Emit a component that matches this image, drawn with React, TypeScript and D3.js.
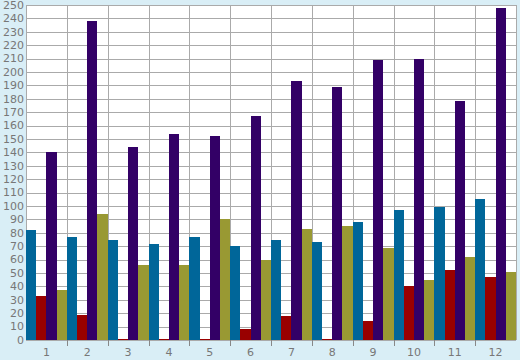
import React from "react";
import * as d3 from "d3";

const categories = ["1", "2", "3", "4", "5", "6", "7", "8", "9", "10", "11", "12"];
const seriesBlue = [82, 77, 75, 72, 77, 70, 75, 73, 88, 97, 99, 105];
const seriesRed = [33, 19, 1, 1, 1, 8, 18, 1, 14, 40, 52, 47];
const seriesPurple = [140, 238, 144, 154, 152, 167, 193, 189, 209, 210, 178, 248];
const seriesOlive = [37, 94, 56, 56, 90, 60, 83, 85, 69, 45, 62, 51];
const seriesNames = ["blue", "red", "purple", "olive"];
const seriesColors = ["#006699", "#990000", "#330066", "#999933"];
const yTicks = d3.range(0, 251, 10);

export default function App() {
  const W = 520, H = 360;
  const left = 26, right = 516, top = 5, bottom = 340;
  const series = [seriesBlue, seriesRed, seriesPurple, seriesOlive];
  const x = d3.scaleBand<string>().domain(categories).range([left, right]).padding(0);
  const xs = d3.scaleBand<string>().domain(seriesNames).range([0, x.bandwidth()]).padding(0);
  const y = d3.scaleLinear().domain([0, 250]).range([bottom, top]);
  const font = "'DejaVu Sans', Verdana, sans-serif";
  const boundaries = d3.range(0, categories.length + 1).map((i) => left + i * x.bandwidth());
  return (
    <svg width={W} height={H} style={{ position: "absolute", left: 0, top: 0 }}>
      <rect x={0} y={0} width={W} height={H} fill="#d9eef6" />
      <rect x={left} y={top} width={right - left} height={bottom - top} fill="#ffffff" />
      {yTicks.map((t) => (
        <line key={"h" + t} x1={left} x2={right} y1={Math.round(y(t)) + 0.5} y2={Math.round(y(t)) + 0.5} stroke="#aaaaaa" strokeWidth={1} />
      ))}
      {boundaries.map((b, i) => (
        <line key={"v" + i} x1={Math.round(b) + 0.5} x2={Math.round(b) + 0.5} y1={top} y2={bottom} stroke="#aaaaaa" strokeWidth={1} />
      ))}
      {categories.map((c, i) => (
        <g key={"g" + c}>
          {series.map((s, j) => (
            <rect
              key={j}
              x={(x(c) as number) + (xs(seriesNames[j]) as number)}
              y={y(s[i])}
              width={xs.bandwidth()}
              height={bottom - y(s[i])}
              fill={seriesColors[j]}
              shapeRendering="crispEdges"
            />
          ))}
        </g>
      ))}
      {boundaries.slice(1, -1).map((b, i) => (
        <line key={"t" + i} x1={Math.round(b) + 0.5} x2={Math.round(b) + 0.5} y1={bottom} y2={bottom + 6} stroke="#888888" strokeWidth={1} />
      ))}
      {yTicks.map((t) => (
        <text key={"yl" + t} x={left - 2} y={y(t)} dy="0.35em" textAnchor="end" fontFamily={font} fontSize={11} fill="#777777">
          {t}
        </text>
      ))}
      {categories.map((c) => (
        <text key={"xl" + c} x={(x(c) as number) + x.bandwidth() / 2} y={356} textAnchor="middle" fontFamily={font} fontSize={11} fill="#777777">
          {c}
        </text>
      ))}
    </svg>
  );
}
